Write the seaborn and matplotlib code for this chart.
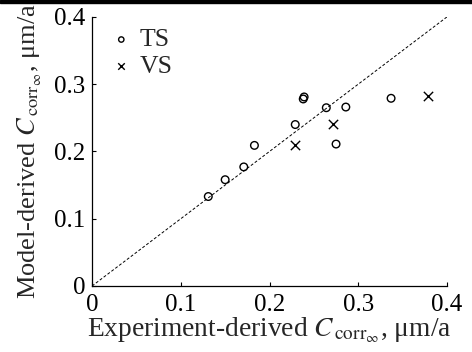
import matplotlib
matplotlib.use("Agg")
import matplotlib.pyplot as plt
import seaborn as sns
import pandas as pd

# Data
ts_exp = [0.131, 0.150, 0.171, 0.183, 0.229, 0.238, 0.239, 0.264, 0.286, 0.275, 0.337]
ts_mod = [0.133, 0.158, 0.177, 0.209, 0.240, 0.278, 0.281, 0.265, 0.266, 0.211, 0.279]
vs_exp = [0.229, 0.271, 0.379]
vs_mod = [0.210, 0.241, 0.282]
ref_line = [0.0, 0.4]
ticks = [0, 0.1, 0.2, 0.3, 0.4]
tick_labels = ["0", "0.1", "0.2", "0.3", "0.4"]

ts = pd.DataFrame({"exp": ts_exp, "mod": ts_mod})
vs = pd.DataFrame({"exp": vs_exp, "mod": vs_mod})

sns.set_style("ticks")
plt.rcParams["font.family"] = ["Liberation Serif", "DejaVu Serif"]
plt.rcParams["mathtext.fontset"] = "stix"

fig = plt.figure(figsize=(4.72, 3.52), dpi=100)
ax = fig.add_axes([0.195, 0.1875, 0.752, 0.7645])

# Identity line
ax.plot(ref_line, ref_line, color="black", lw=0.7, ls=(0, (3, 2)))

# Scatter series
sns.scatterplot(data=ts, x="exp", y="mod", ax=ax, marker="o", s=30,
                facecolor="none", edgecolor="black", linewidth=1.0, label="TS")
sns.scatterplot(data=vs, x="exp", y="mod", ax=ax, marker="x", s=45,
                color="black", linewidth=1.0, label="VS")

ax.set_xlim(0, 0.4)
ax.set_ylim(0, 0.4)
ax.set_xticks(ticks)
ax.set_xticklabels(tick_labels, fontsize=18)
ax.set_yticks(ticks)
ax.set_yticklabels(tick_labels, fontsize=18)
ax.tick_params(direction="in", length=3, width=0.8, colors="black")
ax.tick_params(axis="x", pad=6)
ax.tick_params(axis="y", pad=5)
sns.despine(ax=ax)
for side in ["left", "bottom"]:
    ax.spines[side].set_linewidth(0.9)
    ax.spines[side].set_color("black")

ax.set_xlabel(r"Experiment-derived $C_{\,\mathrm{corr}_\infty}$, μm/a", fontsize=19.8, labelpad=0)
ax.set_ylabel(r"Model-derived $C_{\,\mathrm{corr}_\infty}$, μm/a", fontsize=19, labelpad=7)

leg = ax.legend(loc="upper left", frameon=False, fontsize=18.5, markerscale=0.7,
                handlelength=0.8, handletextpad=0.3, borderaxespad=0.2,
                labelspacing=0.15, bbox_to_anchor=(0.01, 1.015))

# Dark band along the top edge of the reference image
fig.patches.append(plt.Rectangle((0, 0.991), 1, 0.009, transform=fig.transFigure,
                                 color="black", zorder=10))

fig.savefig("out.png", dpi=100)
